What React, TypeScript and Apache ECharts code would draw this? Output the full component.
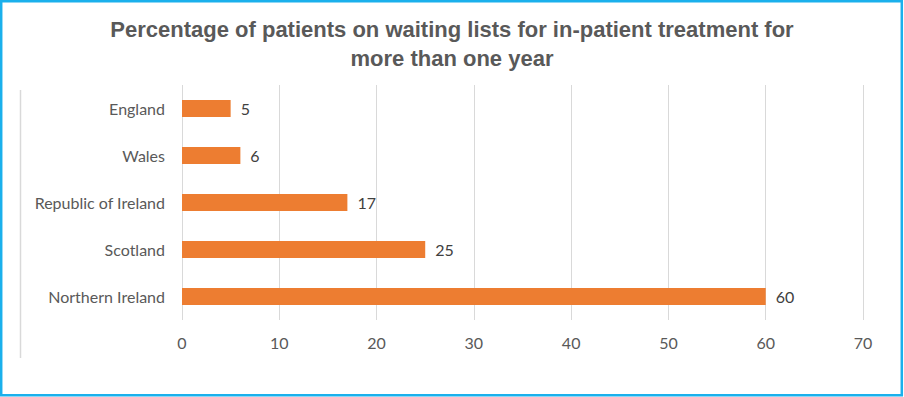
import React, { useEffect, useRef } from "react";
import * as echarts from "echarts";

const categories = ["Northern Ireland", "Scotland", "Republic of Ireland", "Wales", "England"];
const values = [60, 25, 17, 6, 5];
const titleText = "Percentage of patients on waiting lists for in-patient treatment for\nmore than one year";

export default function App() {
  const ref = useRef<HTMLDivElement>(null);
  useEffect(() => {
    document.body.style.margin = "0";
    const chart = echarts.init(ref.current!, null, { renderer: "svg" });
    chart.setOption({
      animation: false,
      backgroundColor: "#ffffff",
      title: {
        text: titleText,
        left: "center",
        top: 10,
        textStyle: {
          fontFamily: "Liberation Sans",
          fontWeight: "bold",
          fontSize: 22,
          color: "#595959",
          lineHeight: 29,
        },
      },
      grid: { left: 182, right: 41, top: 85, bottom: 77, containLabel: false },
      xAxis: {
        type: "value",
        min: 0,
        max: 70,
        interval: 10,
        axisLine: { show: false },
        axisTick: { show: false },
        splitLine: { show: true, lineStyle: { color: "#d9d9d9", width: 1 } },
        axisLabel: {
          margin: 14,
          fontFamily: "Lato",
          fontSize: 16,
          color: "#595959",
        },
      },
      yAxis: {
        type: "category",
        data: categories,
        axisLine: { show: false },
        axisTick: { show: false },
        axisLabel: {
          margin: 17,
          fontFamily: "Lato",
          fontSize: 16,
          color: "#595959",
        },
      },
      series: [
        {
          type: "bar",
          data: values,
          barWidth: 17,
          itemStyle: { color: "#ED7D31" },
          label: {
            show: true,
            position: "right",
            distance: 10,
            fontFamily: "Lato",
            fontSize: 16,
            color: "#404040",
          },
        },
      ],
      graphic: [
        {
          type: "line",
          shape: { x1: 20.5, y1: 90, x2: 20.5, y2: 358 },
          style: { stroke: "#d9d9d9", lineWidth: 1.5 },
        },
        {
          type: "rect",
          shape: { x: 1.2, y: 1.2, width: 900.6, height: 394 },
          style: { fill: "none", stroke: "#1AB0EC", lineWidth: 2.5 },
        },
      ],
    });
    return () => chart.dispose();
  }, []);
  return <div ref={ref} style={{ position: "fixed", left: 0, top: 0, width: 904, height: 397 }} />;
}
